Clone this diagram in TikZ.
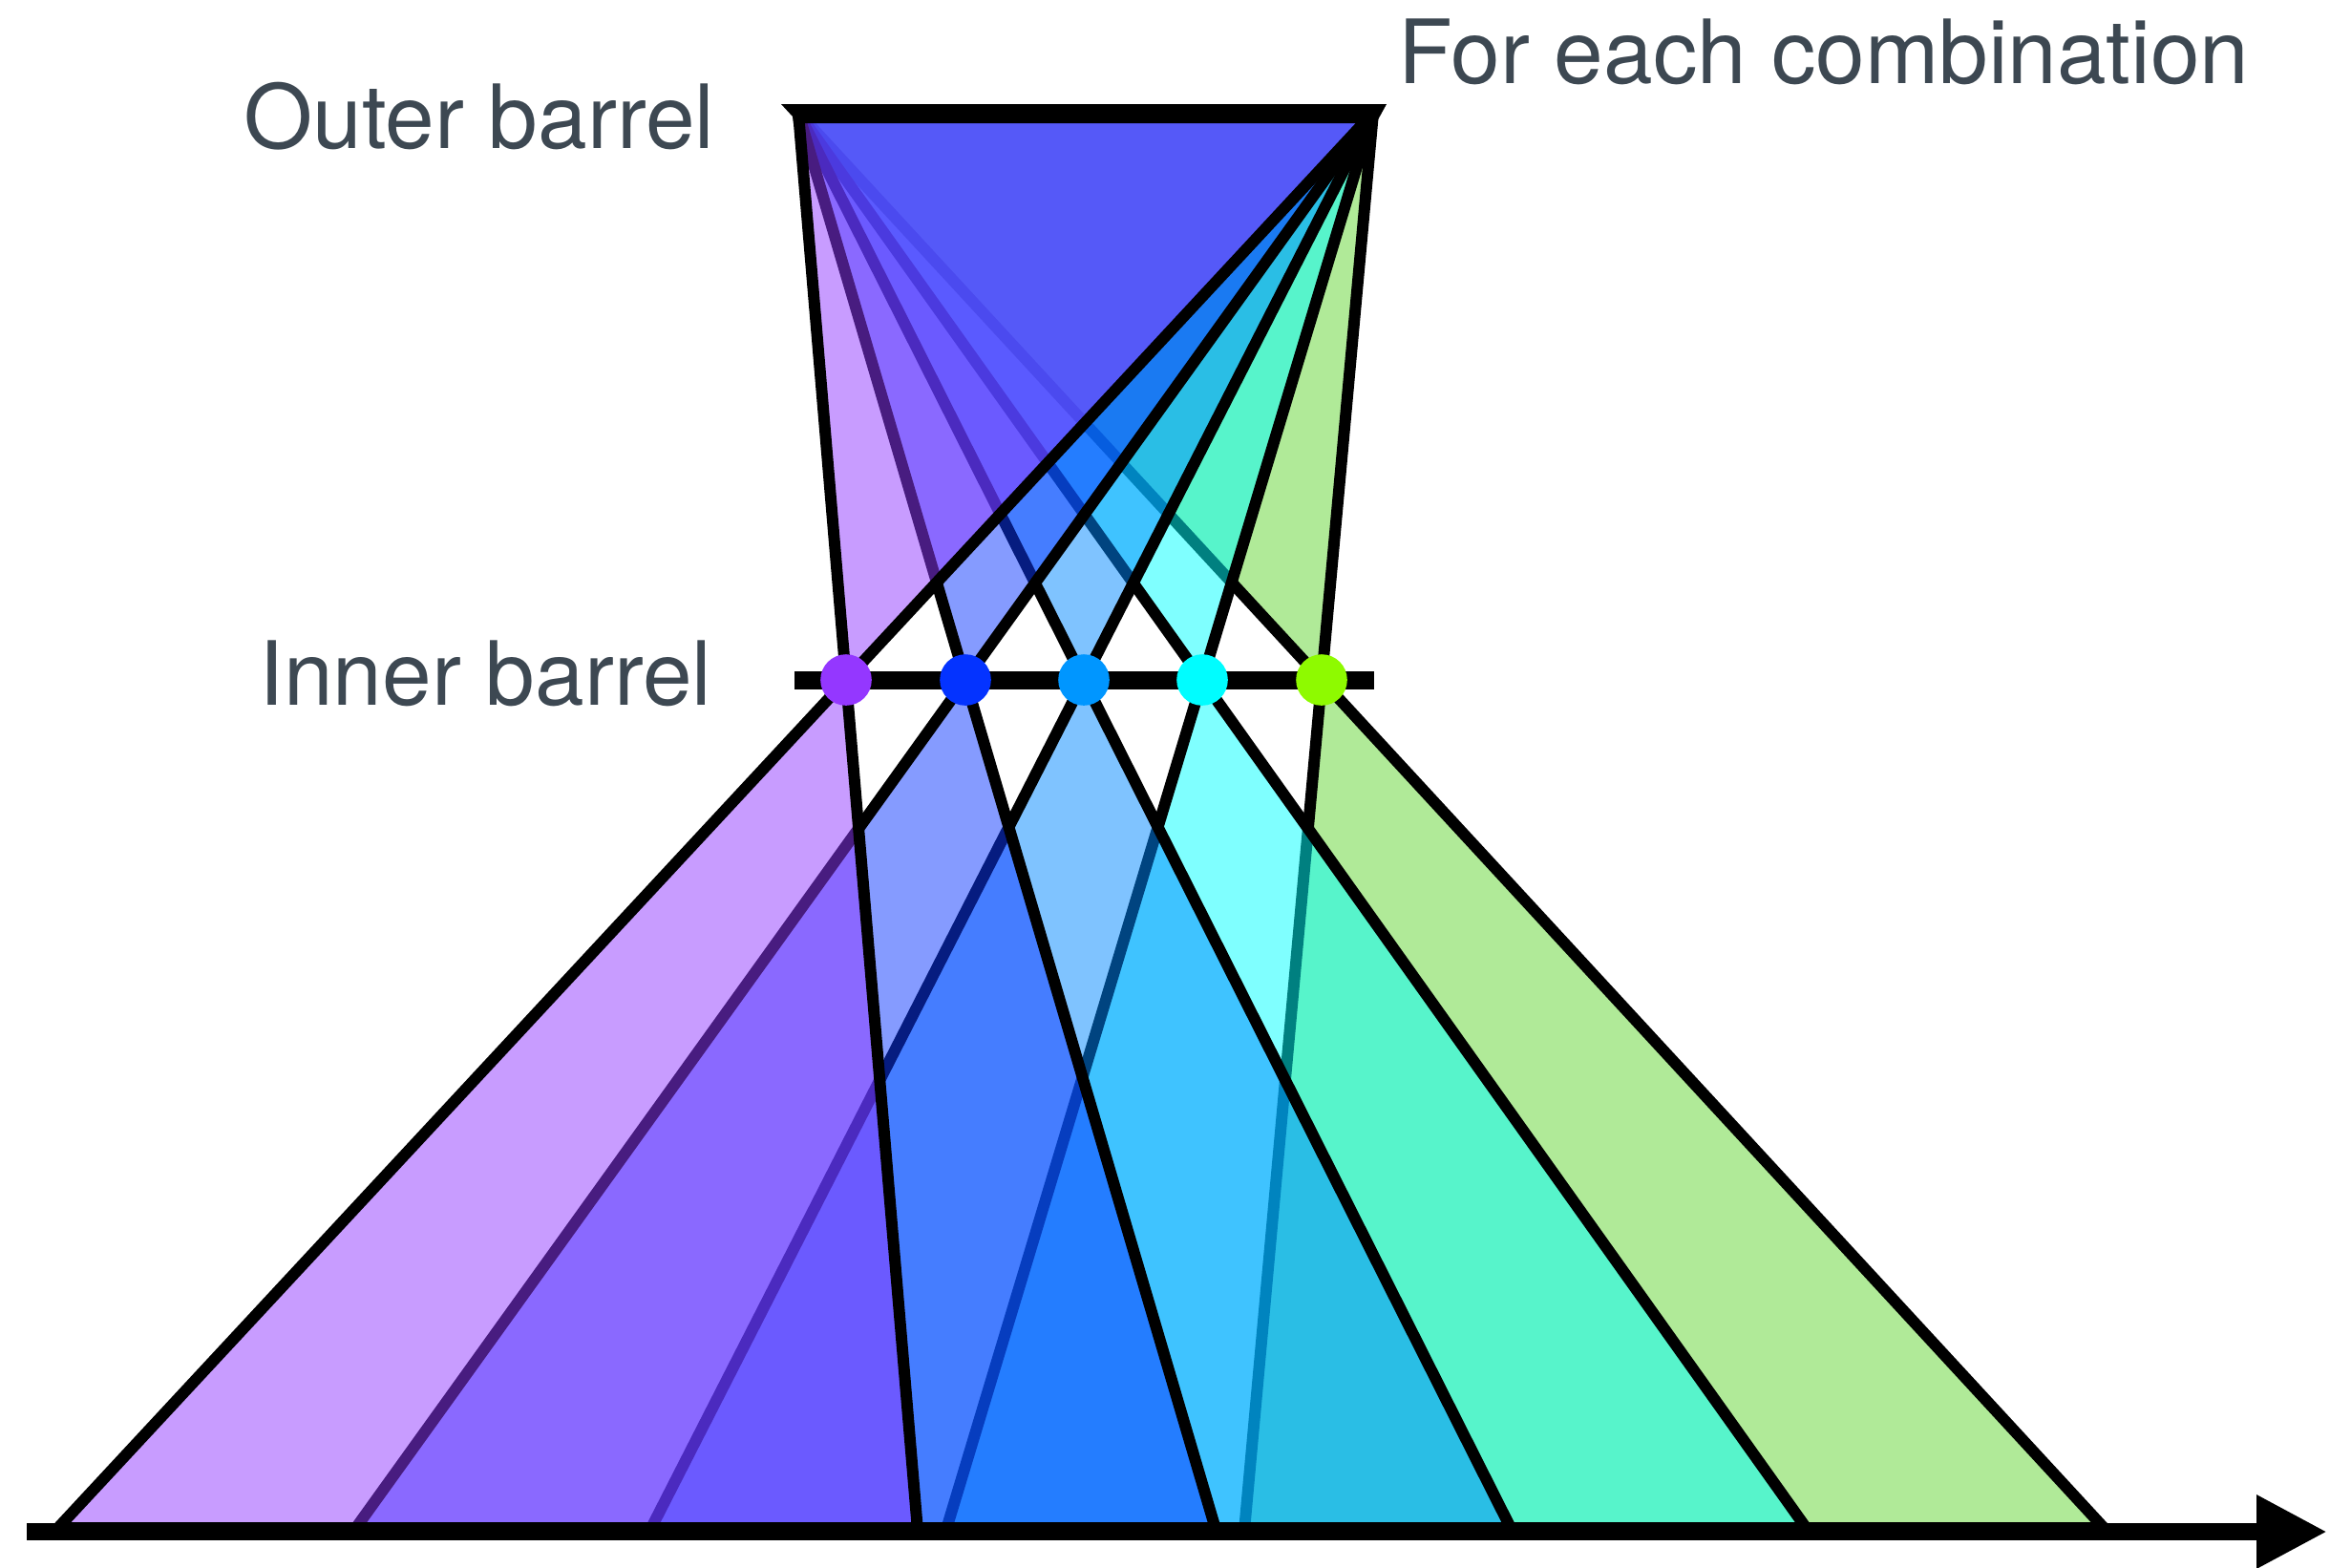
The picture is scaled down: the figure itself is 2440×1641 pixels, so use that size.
\documentclass[tikz,border=0pt]{standalone}
\usepackage{fontspec}
\setmainfont{TeX Gyre Heros}
\usetikzlibrary{arrows.meta,calc}
\definecolor{txt}{HTML}{3D4852}
\definecolor{f1}{HTML}{9139FF}
\definecolor{f2}{HTML}{0C38FF}
\definecolor{f3}{HTML}{0088FF}
\definecolor{f4}{HTML}{00FFFF}
\definecolor{f5}{HTML}{61D531}
\definecolor{d1}{HTML}{9437FF}
\definecolor{d2}{HTML}{0433FF}
\definecolor{d3}{HTML}{0096FF}
\definecolor{d4}{HTML}{00FDFF}
\definecolor{d5}{HTML}{8EFA00}
\begin{document}
\begin{tikzpicture}[x=0.01cm,y=-0.01cm,
  bow/.style={draw=black, fill opacity=0.5, line width=3.4pt, line join=bevel},
  barline/.style={line width=5.4pt},
  axisline/.style={line width=5.1pt, -{Triangle[length=21pt,width=20.5pt]}},
  dotnode/.style={circle, inner sep=0pt, minimum size=0.536cm, draw=none},
  lbl/.style={inner sep=0pt, text=txt, font=\fontsize{26.4}{30}\selectfont}]
\useasboundingbox (0,0) rectangle (2440,1641);
\coordinate (A) at (836,118);
\coordinate (B) at (1438,118);
\foreach \i/\x in {1/886,2/1011,3/1135,4/1259,5/1384}{
  \coordinate (p\i) at (\x,712);
  \coordinate (L\i) at ($(p\i)!-1.49495!(B)$);
  \coordinate (R\i) at ($(p\i)!-1.49495!(A)$);
}
\foreach \i in {5,4,3,2,1}{
  \filldraw[bow, fill=f\i] (A) -- (B) -- (p\i) -- cycle (p\i) -- (L\i) -- (R\i) -- cycle;
}
% outer barrel
\fill[black] (818,109) -- (1452,109) -- (1441,129) -- (831,129) -- (830,122) -- cycle;
% inner barrel
\coordinate (ib1) at (832,712);
\coordinate (ib2) at (1439,712);
\draw[barline] (ib1) -- (ib2);
\foreach \i in {1,...,5}{
  \node[dotnode, fill=d\i] (n\i) at (p\i) {};
}
% axis
\coordinate (ax0) at (28,1604);
\coordinate (ax1) at (2437,1604);
\draw[axisline] (ax0) -- (ax1);
% labels
\node[lbl, anchor=base east] (outer) at (749,155) {Outer barrel};
\node[lbl, anchor=base east] (inner) at (746,738) {Inner barrel};
\node[lbl, anchor=base west] (combo) at (1464,87) {For each combination};
\end{tikzpicture}
\end{document}
